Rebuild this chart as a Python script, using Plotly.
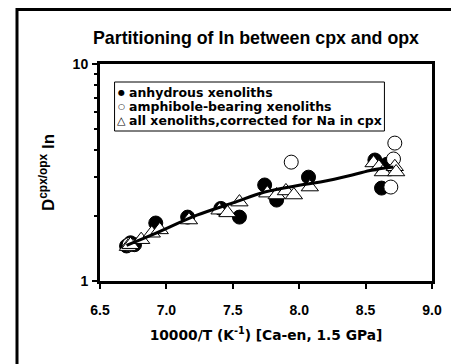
import plotly.graph_objects as go

# anhydrous xenoliths (filled circles)
anh_x = [6.70, 6.73, 6.76, 6.92, 7.16, 7.41, 7.55, 7.74, 7.83, 8.07, 8.57, 8.62, 8.66]
anh_y = [1.45, 1.50, 1.47, 1.85, 1.97, 2.16, 1.97, 2.77, 2.36, 3.01, 3.61, 2.68, 3.45]
# amphibole-bearing xenoliths (open circles)
amp_x = [6.72, 7.94, 8.72, 8.71, 8.69]
amp_y = [1.47, 3.53, 4.32, 3.65, 2.71]
# all xenoliths corrected for Na in cpx (triangles)
cor_x = [6.71, 6.73, 6.81, 6.89, 6.95, 7.17, 7.40, 7.46, 7.55, 7.76, 7.83, 7.90, 7.96, 8.08,
         8.56, 8.60, 8.63, 8.72, 8.73]
cor_y = [1.44, 1.47, 1.55, 1.66, 1.72, 1.91, 2.12, 2.06, 2.31, 2.54, 2.49, 2.60, 2.49, 2.71,
         3.50, 3.35, 3.18, 3.36, 3.18]
# fitted trend line
fit_x = [6.70, 6.90, 7.23, 7.50, 7.74, 8.00, 8.16, 8.40, 8.55, 8.71]
fit_y = [1.46, 1.64, 2.01, 2.29, 2.57, 2.76, 2.86, 3.08, 3.25, 3.35]

# legend texts
legend_symbols = ["●", "○", "△"]
legend_labels = ["anhydrous xenoliths", "amphibole-bearing xenoliths",
                 "all xenoliths,corrected for Na in cpx"]

x_ticks = [6.5, 7.0, 7.5, 8.0, 8.5, 9.0]
y_ticks = [1, 10]

FONT = "Liberation Sans, Arial, sans-serif"
WIDE = "DejaVu Sans, Liberation Sans, sans-serif"

# plot area geometry in pixels
L, R, T, B = 100, 442, 64, 281
W, H = 451, 364


def px_x(p):
    return (p - L) / (R - L)


def px_y(p):
    return (B - p) / (B - T)


fig = go.Figure()
fig.add_trace(go.Scatter(x=anh_x, y=anh_y, mode="markers", showlegend=False,
                         marker=dict(symbol="circle", size=14, color="black",
                                     line=dict(color="black", width=1))))
fig.add_trace(go.Scatter(x=amp_x, y=amp_y, mode="markers", showlegend=False,
                         marker=dict(symbol="circle", size=14, color="white",
                                     line=dict(color="black", width=1))))
fig.add_trace(go.Scatter(x=cor_x, y=cor_y, mode="markers", showlegend=False,
                         marker=dict(symbol="triangle-up", size=15, color="white",
                                     line=dict(color="black", width=1))))
fig.add_trace(go.Scatter(x=fit_x, y=fit_y, mode="lines", showlegend=False,
                         line=dict(color="black", width=3, shape="spline")))

fig.update_layout(
    width=W, height=H,
    margin=dict(l=L, r=W - R, t=T, b=H - B),
    paper_bgcolor="white", plot_bgcolor="white",
    font=dict(family=FONT, size=14, color="black", weight="bold"),
    showlegend=False,
    xaxis=dict(range=[6.5, 9.0], tickvals=x_ticks,
               ticktext=["<b>%.1f</b>" % v for v in x_ticks],
               showgrid=False, zeroline=False, showline=True, mirror=True,
               linecolor="black", linewidth=3, ticks="outside", ticklen=5,
               tickwidth=2, tickcolor="black", ticklabelstandoff=9,
               tickfont=dict(family=FONT, size=14, weight="bold"),
               title=dict(text="<b>10000/T (K<sup>-1</sup>) [Ca-en, 1.5 GPa]</b>",
                          font=dict(family=WIDE, size=13.8, weight="bold"), standoff=14)),
    yaxis=dict(type="log", range=[0, 1], tickvals=y_ticks,
               ticktext=["<b>%d</b>" % v for v in y_ticks],
               showgrid=False, zeroline=False, showline=True, mirror=True,
               linecolor="black", linewidth=3, ticks="outside", ticklen=5,
               tickwidth=2, tickcolor="black", ticklabelstandoff=1,
               minor=dict(tickvals=[2, 3, 4, 5, 6, 7, 8, 9], ticks="outside",
                          ticklen=3, tickwidth=2, tickcolor="black", showgrid=False),
               tickfont=dict(family=FONT, size=14, weight="bold"),
               title=dict(text="<b>D<sup>cpx/opx</sup> In</b>",
                          font=dict(family=FONT, size=17, weight="bold"), standoff=14)),
)

# title
fig.add_annotation(text="<b>Partitioning of In between cpx and opx</b>", xref="paper", yref="paper",
                   x=px_x(261), y=px_y(38), xanchor="center", yanchor="middle",
                   showarrow=False, font=dict(family=FONT, size=17.8, color="black"))

# manual legend
fig.add_shape(type="rect", xref="paper", yref="paper",
              x0=px_x(115), x1=px_x(393), y0=px_y(131), y1=px_y(82),
              line=dict(color="black", width=1), fillcolor="white", layer="above")
row_y = [92, 106, 120]
sym_sizes = [8, 8, 11]
for sym, lab, ry, ss in zip(legend_symbols, legend_labels, row_y, sym_sizes):
    fig.add_annotation(text=sym, xref="paper", yref="paper", x=px_x(122.5), y=px_y(ry + 0.5),
                       xanchor="center", yanchor="middle", showarrow=False,
                       font=dict(family="DejaVu Sans", size=ss, color="black"))
    fig.add_annotation(text="<b>%s</b>" % lab, xref="paper", yref="paper", x=px_x(127.5), y=px_y(ry),
                       xanchor="left", yanchor="middle", showarrow=False,
                       font=dict(family=WIDE, size=12.5, color="black"))

# outer frame around the chart (clipped by the image edges)
fig.add_shape(type="rect", xref="paper", yref="paper",
              x0=px_x(14.5), x1=1.3, y0=-0.6, y1=px_y(9.5),
              line=dict(color="black", width=3), fillcolor="rgba(0,0,0,0)", layer="below")

fig.write_html("out.html")
